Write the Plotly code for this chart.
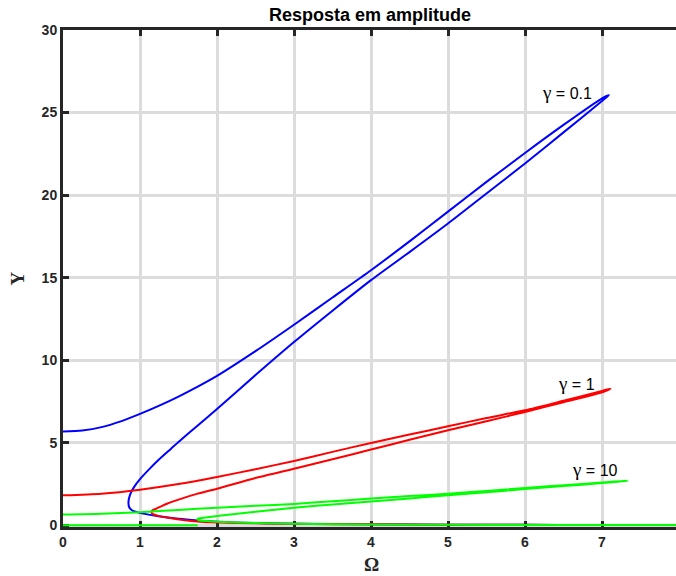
import plotly.graph_objects as go

# Frequency-response curves (upper, middle and lower branches in order)
blue_omega = [0.00, 0.25, 0.50, 0.75, 1.00, 1.25, 1.50, 1.75, 2.00, 2.50, 3.00, 3.50, 4.00, 4.50, 5.00,
              5.50, 6.00, 6.50, 7.00, 7.09,
              7.00, 6.50, 6.00, 5.50, 5.00, 4.50, 4.00, 3.50, 3.00, 2.50, 2.00, 1.75, 1.50, 1.40, 1.25,
              1.13, 1.00, 0.92, 0.87, 0.85, 0.86, 0.90, 0.96, 1.04, 1.24, 1.50, 1.75, 2.00, 2.50, 3.00,
              4.00, 5.00, 6.00, 7.00, 7.22]
blue_y = [5.68, 5.75, 5.95, 6.30, 6.75, 7.25, 7.80, 8.40, 9.05, 10.55, 12.15, 13.80, 15.45, 17.20, 19.00,
          20.80, 22.55, 24.25, 25.86, 26.06,
          25.70, 23.80, 21.92, 20.10, 18.28, 16.55, 14.85, 13.00, 11.10, 9.10, 7.05, 6.05, 5.05, 4.63, 4.00,
          3.45, 2.80, 2.30, 1.85, 1.40, 1.10, 0.90, 0.80, 0.71, 0.55, 0.40, 0.30, 0.22, 0.14, 0.10,
          0.06, 0.04, 0.03, 0.02, 0.02]

red_omega = [0.00, 0.50, 1.00, 1.50, 2.00, 2.50, 3.00, 3.50, 4.00, 4.50, 5.00, 5.50, 6.00, 6.50, 7.00, 7.11,
             7.00, 6.50, 6.00, 5.50, 5.00, 4.50, 4.00, 3.50, 3.00, 2.50, 2.00, 1.75, 1.56, 1.35, 1.22,
             1.16, 1.15, 1.17, 1.25, 1.35, 1.56, 1.78, 2.00, 2.50, 3.00, 4.00, 5.00, 6.00, 7.00, 7.30]
red_y = [1.82, 1.92, 2.16, 2.50, 2.93, 3.40, 3.90, 4.45, 4.99, 5.50, 6.00, 6.50, 6.97, 7.55, 8.14, 8.28,
         8.05, 7.45, 6.87, 6.30, 5.76, 5.18, 4.59, 4.00, 3.43, 2.87, 2.22, 1.92, 1.65, 1.31, 1.03,
         0.90, 0.78, 0.68, 0.56, 0.47, 0.32, 0.22, 0.17, 0.12, 0.09, 0.06, 0.04, 0.03, 0.02, 0.02]

green_omega = [0.00, 0.50, 1.00, 1.50, 2.00, 2.50, 3.00, 3.50, 4.00, 4.50, 5.00, 5.50, 6.00, 6.50, 7.00, 7.33,
               7.20, 7.00, 6.50, 6.00, 5.50, 5.00, 4.50, 4.00, 3.50, 3.00, 2.50, 2.00, 1.85, 1.76,
               1.74, 1.78, 1.90, 2.00, 2.50, 3.00, 4.00, 5.00, 6.00, 7.00, 8.50,
               None, 0.00, 1.75]
green_y = [0.65, 0.70, 0.80, 0.93, 1.07, 1.18, 1.30, 1.46, 1.62, 1.77, 1.92, 2.08, 2.26, 2.43, 2.59, 2.71,
           2.64, 2.56, 2.38, 2.20, 2.00, 1.82, 1.63, 1.45, 1.27, 1.07, 0.82, 0.57, 0.48, 0.42,
           0.36, 0.30, 0.25, 0.22, 0.14, 0.09, 0.05, 0.03, 0.02, 0.02, 0.02,
           None, 0.00, 0.00]

curve_labels = ["0.1", "1", "10"]
x_ticks = [0, 1, 2, 3, 4, 5, 6, 7, 8]
y_ticks = [0, 5, 10, 15, 20, 25, 30]

AXIS_COLOR = "#262626"
GRID_COLOR = "#dcdcdc"
SANS = "Liberation Sans"
SERIF = "Liberation Serif"

fig = go.Figure()
for om, yy, col in [(blue_omega, blue_y, "#0000ff"),
                    (red_omega, red_y, "#ff0000"),
                    (green_omega, green_y, "#00ff00")]:
    fig.add_trace(go.Scatter(x=om, y=yy, mode="lines",
                             line=dict(color=col, width=2, shape="spline", smoothing=0.7),
                             connectgaps=False, showlegend=False, hoverinfo="skip"))

tick_font = dict(family=SANS, size=14, color=AXIS_COLOR, weight="bold")

fig.update_xaxes(range=[0, 7.961], tickvals=x_ticks, ticktext=[str(v) for v in x_ticks],
                 showgrid=True, gridcolor=GRID_COLOR, gridwidth=3, zeroline=False,
                 showline=True, linecolor=AXIS_COLOR, linewidth=3, mirror="ticks",
                 ticks="inside", ticklen=6, tickwidth=3, tickcolor=AXIS_COLOR,
                 tickfont=tick_font, layer="below traces")
fig.update_yaxes(range=[-0.1, 30], tickvals=y_ticks, ticktext=[str(v) for v in y_ticks],
                 showgrid=True, gridcolor=GRID_COLOR, gridwidth=3, zeroline=False,
                 showline=True, linecolor=AXIS_COLOR, linewidth=3,
                 ticks="inside", ticklen=6, tickwidth=3, tickcolor=AXIS_COLOR,
                 tickfont=tick_font, layer="below traces")

label_pos = [(6.90, 26.2), (6.93, 8.6), (7.23, 3.4)]
for txt, (lx, ly) in zip(curve_labels, label_pos):
    fig.add_annotation(x=lx, y=ly, xref="x", yref="y", xanchor="right", yanchor="middle",
                       text='<span style="font-family:Liberation Serif;font-size:19px">γ</span> = ' + txt,
                       showarrow=False, font=dict(family=SANS, size=16, color="black"))

# title and axis titles
fig.add_annotation(x=0.5, y=1, xref="paper", yref="paper", yshift=15, xanchor="center", yanchor="middle",
                   text="Resposta em amplitude", showarrow=False,
                   font=dict(family=SANS, size=18, color="black", weight="bold"))
fig.add_annotation(x=(371 - 63) / 613, y=0, xref="paper", yref="paper", yshift=-37, xanchor="center",
                   yanchor="middle", text="Ω", showarrow=False,
                   font=dict(family=SERIF, size=19, color=AXIS_COLOR, weight="bold"))
fig.add_annotation(x=0, y=0.5, xref="paper", yref="paper", xshift=-46, xanchor="center", yanchor="middle",
                   text="Y", textangle=-90, showarrow=False,
                   font=dict(family=SERIF, size=19, color=AXIS_COLOR, weight="bold"))

fig.update_layout(width=676, height=576, margin=dict(l=63, r=0, t=30, b=49),
                  paper_bgcolor="white", plot_bgcolor="white")

fig.write_html("out.html")
